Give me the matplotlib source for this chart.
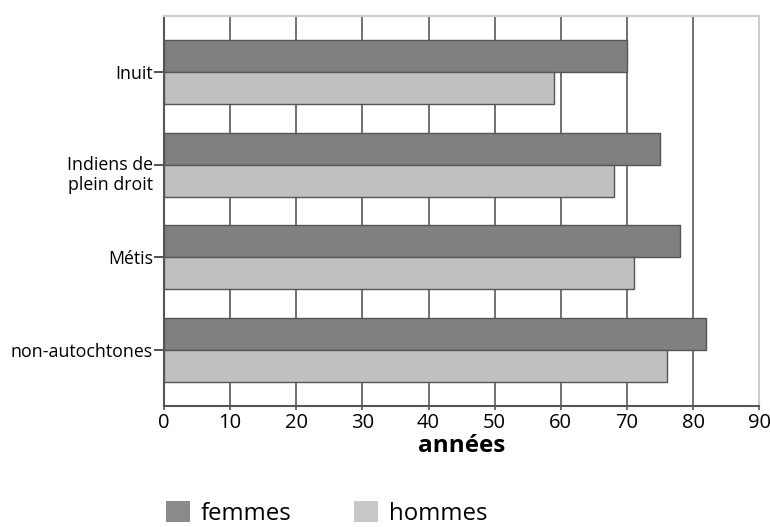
import numpy as np
import matplotlib.pyplot as plt
import matplotlib.transforms as mtransforms
from matplotlib.patches import Patch

# Data
groups = ['Inuit', 'Indiens de\nplein droit', 'Métis', 'non-autochtones']
femmes = [70, 75, 78, 82]
hommes = [59, 68, 71, 76]
xticks = [0, 10, 20, 30, 40, 50, 60, 70, 80, 90]

plt.rcParams['font.family'] = ['Open Sans', 'DejaVu Sans']

fig = plt.figure(figsize=(7.7, 5.27), dpi=100)
ax = fig.add_axes([0.213, 0.2296, 0.773, 0.7400])

y = np.arange(len(groups))
h = 0.345
ax.barh(y - h, femmes, height=h, align='edge', color='#808080',
        edgecolor='#555555', linewidth=1.0, zorder=3)
ax.barh(y, hommes, height=h, align='edge', color='#c0c0c0',
        edgecolor='#555555', linewidth=1.0, zorder=3)

ax.set_xlim(0, 90)
ax.set_ylim(3.6, -0.6)
ax.set_xticks(xticks)
ax.set_xticklabels([str(t) for t in xticks], fontsize=14.5)
ax.set_yticks(y)
ax.set_yticklabels(groups, fontsize=12.8, linespacing=1.15)
ax.tick_params(axis='y', length=7, width=1.2, color='#333333', pad=1)
ax.tick_params(axis='x', length=3, width=1.2, color='#555555', pad=2)

# shift the two-line label down so its first line sits on the tick
lab = ax.get_yticklabels()[1]
lab.set_transform(lab.get_transform() +
                  mtransforms.ScaledTranslation(0, -7 / 100, fig.dpi_scale_trans))

ax.grid(axis='x', color='#666666', linewidth=1.3, zorder=0)
ax.set_axisbelow(True)

for side in ['top', 'right']:
    ax.spines[side].set_color('#cccccc')
    ax.spines[side].set_linewidth(1.5)
for side in ['left', 'bottom']:
    ax.spines[side].set_color('#555555')
    ax.spines[side].set_linewidth(1.5)

ax.set_xlabel('années', fontsize=17.5, fontweight='bold', labelpad=0.5)

handles = [Patch(facecolor='#8a8a8a', edgecolor='none', label='femmes'),
           Patch(facecolor='#c8c8c8', edgecolor='none', label='hommes')]
fig.legend(handles=handles, loc='lower left', bbox_to_anchor=(0.187, -0.039),
           ncol=2, frameon=False, fontsize=17.3, handlelength=1.0,
           handleheight=1.0, handletextpad=0.45, columnspacing=2.6)

fig.savefig('out.png', dpi=100)
